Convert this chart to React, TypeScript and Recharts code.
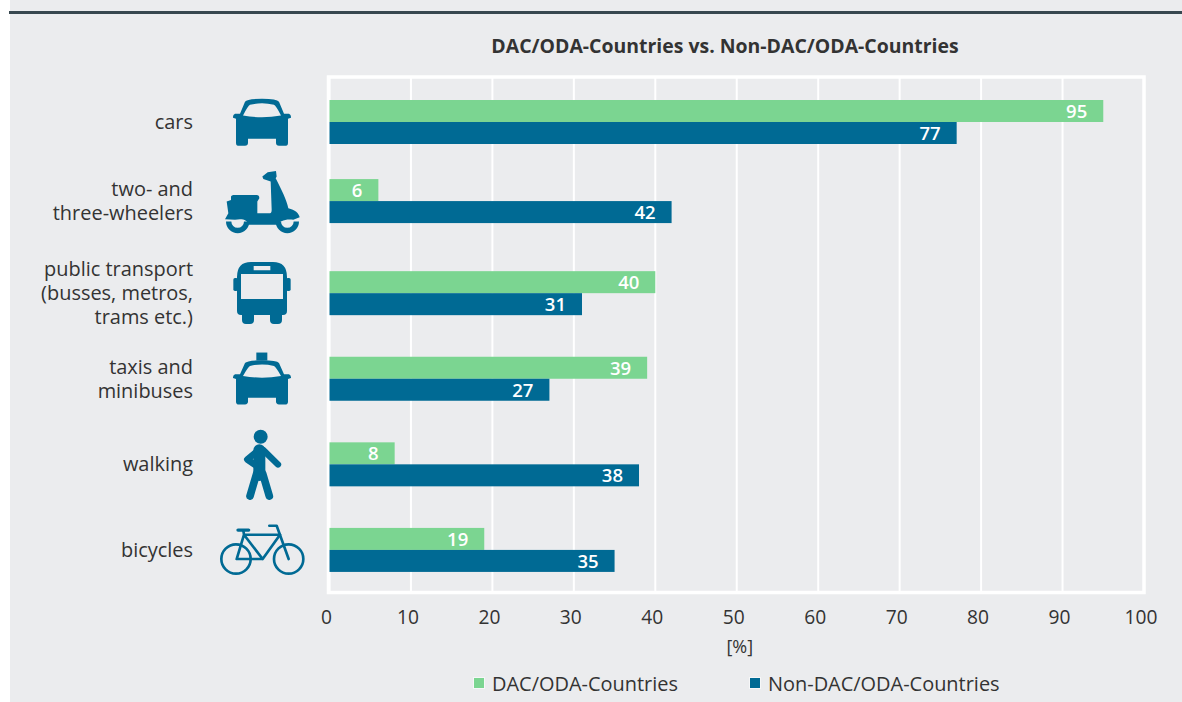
import { Bar, BarChart, CartesianGrid, Legend, ReferenceArea, XAxis, YAxis } from "recharts";

const categories = [
  ["cars"],
  ["two- and", "three-wheelers"],
  ["public transport", "(busses, metros,", "trams etc.)"],
  ["taxis and", "minibuses"],
  ["walking"],
  ["bicycles"],
];
const dacValues = [95, 6, 40, 39, 8, 19];
const nonDacValues = [77, 42, 31, 27, 38, 35];
const xTicks = [0, 10, 20, 30, 40, 50, 60, 70, 80, 90, 100];

const data = categories.map((lines, i) => ({
  name: lines.join(" "),
  dac: dacValues[i],
  nonDac: nonDacValues[i],
}));

const GREEN = "#7bd591";
const BLUE = "#006a94";
const BG = "#ebecee";
const TEXT = "#333333";
const FONT = "'Open Sans', sans-serif";

// the two-wheeler row sits a bit higher than an even spacing would put it
const rowNudge = [0, -6.5, 0, 0, 0, 0];

// icons are traced at 3x, (cx, cy) is the point that sits on the row centre
function Icon({ x, y, cx, cy, children }: any) {
  return <g transform={`translate(${x},${y}) scale(0.3333) translate(${-cx},${-cy})`}>{children}</g>;
}

const carPath =
  "M-51,-60 Q-45,-69 0,-69 Q45,-69 51,-60 L66,-24 L81,-24 Q88,-21 87,-12 L78,-9 L78,63 Q78,72 72,72 L51,72 Q42,72 42,63 L42,51 L-42,51 L-42,63 Q-42,72 -51,72 L-72,72 Q-78,72 -78,63 L-78,-9 L-87,-12 Q-88,-21 -81,-24 L-66,-24 Z " +
  "M-36,-51 Q0,-60 36,-51 Q42,-48 57,-19 Q0,-8 -57,-19 Q-42,-48 -36,-51 Z";

function RowIcon({ index, x, y }: { index: number; x: number; y: number }) {
  if (index === 0) {
    return (
      <Icon x={x} y={y} cx={0} cy={0}>
        <path d={carPath} fill={BLUE} fillRule="evenodd" />
      </Icon>
    );
  }
  if (index === 1) {
    return (
      <Icon x={x} y={y} cx={786} cy={603}>
        <path
          fill={BLUE}
          d="M787,530 L803,517 L828,513 L830,530 L827,535 C845,570 860,600 865,625 C885,630 897,640 899,652 L880,660 C860,655 835,665 830,675 L745,675 C745,660 725,655 705,660 L675,658 L685,640 L680,605 L693,600 L693,590 Q695,585 700,585 L770,585 Q778,585 778,595 L772,605 L772,640 L810,640 Q815,640 815,630 L812,545 L790,537 Z"
        />
        <path d="M686,665 A27,27 0 0 0 740,665" fill="none" stroke={BLUE} strokeWidth={16} />
        <path d="M835,665 A27,27 0 0 0 889,665" fill="none" stroke={BLUE} strokeWidth={16} />
      </Icon>
    );
  }
  if (index === 2) {
    return (
      <Icon x={x} y={y} cx={0} cy={0}>
        <path
          fill={BLUE}
          fillRule="evenodd"
          d="M-75,-48 Q-75,-93 -33,-93 L33,-93 Q75,-93 75,-48 L75,54 Q75,66 63,66 L60,66 L60,81 Q60,93 48,93 L36,93 Q24,93 24,81 L24,66 L-24,66 L-24,81 Q-24,93 -36,93 L-48,93 Q-60,93 -60,81 L-60,66 L-63,66 Q-75,66 -75,54 Z M-63,-57 L-63,18 L63,18 L63,-57 Z M-25,-81 L-25,-68 L25,-68 L25,-81 Z"
        />
        <rect x={-86} y={-45} width={14} height={39} rx={5} fill={BLUE} />
        <rect x={72} y={-45} width={14} height={39} rx={5} fill={BLUE} />
      </Icon>
    );
  }
  if (index === 3) {
    return (
      <Icon x={x} y={y} cx={0} cy={-10}>
        <path d={carPath} fill={BLUE} fillRule="evenodd" transform="scale(1,0.94)" />
        <rect x={-17} y={-88} width={33} height={24} fill={BLUE} />
      </Icon>
    );
  }
  if (index === 4) {
    return (
      <Icon x={x} y={y} cx={186} cy={132}>
        <circle cx={182} cy={50} r={21} fill={BLUE} />
        <path d="M178,90 L178,165" stroke={BLUE} strokeWidth={36} strokeLinecap="round" fill="none" />
        <path d="M178,88 L142,118 L165,134" stroke={BLUE} strokeWidth={20} strokeLinecap="round" strokeLinejoin="round" fill="none" />
        <path d="M190,90 L234,133" stroke={BLUE} strokeWidth={19} strokeLinecap="round" fill="none" />
        <path d="M170,160 L150,228" stroke={BLUE} strokeWidth={23} strokeLinecap="round" fill="none" />
        <path d="M188,160 L208,228" stroke={BLUE} strokeWidth={23} strokeLinecap="round" fill="none" />
      </Icon>
    );
  }
  return (
    <Icon x={x} y={y} cx={186} cy={390}>
      <g fill="none" stroke={BLUE} strokeWidth={8} strokeLinecap="round" strokeLinejoin="round">
        <circle cx={108} cy={418} r={44} />
        <circle cx={266} cy={418} r={44} />
        <path d="M132,345 L110,418 L188,418 L240,345 L132,345 M132,345 L188,418 M130,332 L132,345" />
        <path d="M208,318 L230,318 L266,418" />
      </g>
      <path d="M114,331 L146,331" stroke={BLUE} strokeWidth={10} strokeLinecap="round" />
    </Icon>
  );
}

function CategoryTick({ y, index }: any) {
  const lines = categories[index];
  const cy = y + rowNudge[index];
  return (
    <g>
      {lines.map((line, i) => (
        <text
          key={line}
          x={193}
          y={cy + (i - (lines.length - 1) / 2) * 24 + 7}
          textAnchor="end"
          fontSize={19.95}
          fontFamily={FONT}
          fill={TEXT}
        >
          {line}
        </text>
      ))}
      <RowIcon index={index} x={262} y={cy} />
    </g>
  );
}

function ValueTick({ x, y, payload }: any) {
  return (
    <text x={x - 3} y={y + 23} textAnchor="middle" fontSize={19.2} fontFamily={FONT} fill={TEXT}>
      {payload.value}
    </text>
  );
}

function ValueBar({ x, y, width, height, index, fill, labelValue, fontWeight }: any) {
  const top = y + rowNudge[index];
  return (
    <g>
      <rect x={x} y={top} width={width} height={height} fill={fill} />
      <text
        x={x + width - 16}
        y={top + height / 2 + 7}
        textAnchor="end"
        fontSize={18.5}
        fontWeight={fontWeight}
        fontFamily={FONT}
        fill="#ffffff"
      >
        {labelValue[index]}
      </text>
    </g>
  );
}

// white frame round the plot, reaching a little above the first band
function PlotFrame({ x, y, width, height }: any) {
  return <rect x={x - 1} y={y - 2} width={width + 1} height={height + 2} fill="none" stroke="#ffffff" strokeWidth={3.5} />;
}

function LegendRow({ payload }: any) {
  const starts = [473, 749];
  return (
    <div style={{ position: "relative", width: 1182, height: 30 }}>
      {(payload ?? []).map((item: any, i: number) => (
        <div
          key={item.value}
          style={{
            position: "absolute",
            left: starts[i],
            top: 0,
            display: "flex",
            alignItems: "center",
            height: 24,
            fontFamily: FONT,
            fontSize: 19.95,
            color: TEXT,
            whiteSpace: "nowrap",
          }}
        >
          <span
            style={{
              display: "inline-block",
              width: 10,
              height: 10,
              marginRight: 7,
              background: item.color,
              border: "1px solid #f6f7f8",
            }}
          />
          {item.value}
        </div>
      ))}
    </div>
  );
}

export default function App() {
  return (
    <div style={{ position: "absolute", left: 0, top: 0, width: 1182, height: 702, background: "#ffffff", overflow: "hidden" }}>
      <div style={{ position: "absolute", left: 10, top: 0, width: 1172, height: 702, background: BG }} />
      <div style={{ position: "absolute", left: 9, top: 11, width: 1173, height: 3, background: "#37474f" }} />
      <div
        style={{
          position: "absolute",
          left: 325,
          width: 800,
          top: 32,
          textAlign: "center",
          fontFamily: FONT,
          fontSize: 19.45,
          fontWeight: 700,
          color: TEXT,
        }}
      >
        DAC/ODA-Countries vs. Non-DAC/ODA-Countries
      </div>
      <BarChart
        width={1182}
        height={702}
        data={data}
        layout="vertical"
        margin={{ top: 77, right: 38, left: 0, bottom: 0 }}
        barSize={22}
        barGap={0}
        style={{ position: "absolute", left: 0, top: 0 }}
      >
        <CartesianGrid horizontal={false} stroke="#ffffff" strokeWidth={2} />
        <XAxis
          type="number"
          domain={[0, 100]}
          ticks={xTicks}
          height={109.5}
          axisLine={false}
          tickLine={false}
          tick={<ValueTick />}
          interval={0}
          label={{
            value: "[%]",
            position: "insideTop",
            dy: 43,
            dx: 3,
            fontSize: 18,
            fontFamily: FONT,
            fill: TEXT,
          }}
        />
        <YAxis
          type="category"
          dataKey="name"
          width={329.5}
          padding={{ top: 2, bottom: 0 }}
          axisLine={false}
          tickLine={false}
          interval={0}
          tick={<CategoryTick />}
        />
        <ReferenceArea x1={0} x2={100} shape={<PlotFrame />} />
        <Bar
          dataKey="dac"
          name="DAC/ODA-Countries"
          fill={GREEN}
          isAnimationActive={false}
          shape={<ValueBar labelValue={dacValues} fontWeight={600} />}
        />
        <Bar
          dataKey="nonDac"
          name="Non-DAC/ODA-Countries"
          fill={BLUE}
          isAnimationActive={false}
          shape={<ValueBar labelValue={nonDacValues} fontWeight={600} />}
        />
        <Legend
          layout="horizontal"
          verticalAlign="middle"
          content={<LegendRow />}
          wrapperStyle={{ position: "absolute", left: 0, top: 671, width: 1182 }}
        />
      </BarChart>
    </div>
  );
}
